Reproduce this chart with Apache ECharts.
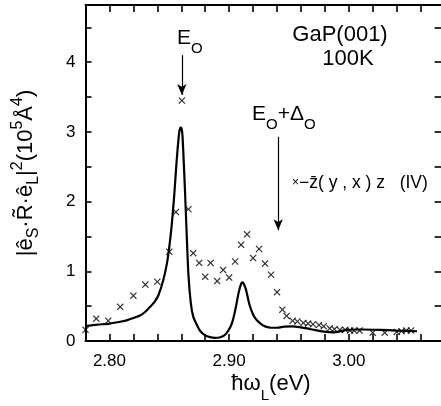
<!DOCTYPE html>
<html>
<head>
<meta charset="utf-8">
<script src="https://cdn.jsdelivr.net/npm/echarts@6/dist/echarts.min.js"></script>
<style>html,body{margin:0;padding:0;background:#fff;}#c{width:441px;height:406px;}</style>
</head>
<body>
<div id="c"></div>
<script>
// measured points (crosses): -z(y,x)z (IV)
const crossX = [2.780, 2.789, 2.799, 2.809, 2.820, 2.830, 2.840, 2.850, 2.8555, 2.8605, 2.866, 2.870, 2.875, 2.880, 2.8845, 2.890, 2.895, 2.900, 2.905, 2.910, 2.915, 2.920, 2.925, 2.930, 2.935, 2.940, 2.9445, 2.948, 2.953, 2.957, 2.962, 2.966, 2.970, 2.975, 2.979, 2.984, 2.988, 2.9925, 2.997, 3.001, 3.0045, 3.009, 3.020, 3.030, 3.040, 3.044, 3.048, 3.052];
const crossY = [0.16, 0.32, 0.29, 0.49, 0.65, 0.81, 0.85, 1.28, 1.85, 3.45, 1.89, 1.26, 1.12, 0.92, 1.12, 0.86, 1.02, 0.91, 1.14, 1.38, 1.53, 1.19, 1.32, 1.11, 0.95, 0.70, 0.45, 0.36, 0.29, 0.28, 0.26, 0.25, 0.24, 0.23, 0.21, 0.18, 0.17, 0.16, 0.16, 0.15, 0.15, 0.15, 0.12, 0.12, 0.13, 0.14, 0.15, 0.15];
// calculated curve (solid line)
const curveX = [2.78, 2.79, 2.80, 2.81, 2.815, 2.82, 2.826, 2.83, 2.834, 2.838, 2.841, 2.845, 2.848, 2.850, 2.852, 2.854, 2.856, 2.858, 2.859, 2.860, 2.861, 2.863, 2.8645, 2.866, 2.868, 2.870, 2.8725, 2.876, 2.880, 2.884, 2.888, 2.892, 2.896, 2.899, 2.902, 2.904, 2.906, 2.908, 2.910, 2.911, 2.912, 2.914, 2.917, 2.920, 2.923, 2.927, 2.930, 2.935, 2.940, 2.946, 2.953, 2.960, 2.965, 2.972, 2.979, 2.987, 2.993, 2.998, 3.010, 3.026, 3.040, 3.057];
const curveY = [0.215, 0.235, 0.25, 0.28, 0.30, 0.33, 0.37, 0.42, 0.49, 0.57, 0.66, 0.875, 1.11, 1.35, 1.66, 2.06, 2.55, 2.95, 3.05, 3.06, 2.95, 2.2, 1.55, 0.95, 0.54, 0.35, 0.25, 0.14, 0.08, 0.055, 0.045, 0.05, 0.08, 0.14, 0.24, 0.36, 0.52, 0.70, 0.82, 0.84, 0.83, 0.74, 0.52, 0.38, 0.30, 0.24, 0.21, 0.19, 0.19, 0.205, 0.21, 0.195, 0.18, 0.155, 0.135, 0.125, 0.14, 0.16, 0.165, 0.16, 0.15, 0.14];
// x tick labels and y tick labels
const xTickLabels = ['2.80', '2.90', '3.00'];
const yTickLabels = ['0', '1', '2', '3', '4'];
// arrows (E0 and E0+Δ0)
const arrowE0 = [[2.8605, 4.10], [2.8605, 3.53]];
const arrowE0D0 = [[2.941, 2.93], [2.941, 1.59]];

const FONT = 'Liberation Sans';
const chart = echarts.init(document.getElementById('c'), null, {renderer: 'canvas'});

const crossPath = 'path://M0,1.2L1.2,0L5,3.8L8.8,0L10,1.2L6.2,5L10,8.8L8.8,10L5,6.2L1.2,10L0,8.8L3.8,5Z';

const xLabelFmt = v => {
  const s = v.toFixed(2);
  return xTickLabels.indexOf(s) >= 0 ? s : '';
};
const yLabelFmt = v => {
  const s = String(v);
  return yTickLabels.indexOf(s) >= 0 ? s : '';
};

const axisCommon = {
  axisLine: {show: true, onZero: false, lineStyle: {color: '#000', width: 2}},
  axisTick: {show: true, inside: true, length: 7, lineStyle: {color: '#000', width: 1.6}},
  splitLine: {show: false}
};

chart.setOption({
  backgroundColor: '#fff',
  animation: false,
  grid: {left: 85.5, top: 5, right: -3.6, bottom: 65, outerBoundsMode: 'none', containLabel: false},
  xAxis: [
    Object.assign({}, axisCommon, {
      type: 'value', min: 2.78, max: 3.08, interval: 0.02, position: 'bottom',
      axisLabel: {formatter: xLabelFmt, fontFamily: FONT, fontSize: 17, color: '#000', margin: 12, showMinLabel: true, showMaxLabel: true}
    }),
    Object.assign({}, axisCommon, {
      type: 'value', min: 2.78, max: 3.08, interval: 0.02, position: 'top',
      axisLabel: {show: false}
    })
  ],
  yAxis: [
    Object.assign({}, axisCommon, {
      type: 'value', min: 0, max: 4.82, interval: 0.5, position: 'left',
      axisTick: {show: true, inside: true, length: 6, lineStyle: {color: '#000', width: 1.6}},
      axisLabel: {formatter: yLabelFmt, fontFamily: FONT, fontSize: 17, color: '#000', margin: 10},
      name: '{a||ê}{sub|S}{a|·R̃·ê}{sub|L}{a||}{sup|2}{a|(10}{sup|5}{a|Å}{sup|4}{a|)}',
      nameLocation: 'middle', nameRotate: 90, nameGap: 44,
      nameTextStyle: {
        rich: {
          a: {fontFamily: FONT, fontSize: 22, color: '#000', lineHeight: 32},
          sub: {fontFamily: FONT, fontSize: 16, color: '#000', lineHeight: 16, verticalAlign: 'bottom'},
          sup: {fontFamily: FONT, fontSize: 16, color: '#000', lineHeight: 16, verticalAlign: 'top'}
        }
      }
    }),
    Object.assign({}, axisCommon, {
      type: 'value', min: 0, max: 4.82, interval: 0.5, position: 'right',
      axisTick: {show: true, inside: true, length: 10, lineStyle: {color: '#000', width: 1.6}},
      axisLabel: {show: false}
    })
  ],
  series: [
    {
      type: 'line', name: 'calc', xAxisIndex: 0, yAxisIndex: 0,
      data: curveX.map((x, i) => [x, curveY[i]]),
      showSymbol: false, symbol: 'none', smooth: 0.25,
      lineStyle: {color: '#000', width: 2.2},
      markLine: {
        silent: true, symbol: ['none', 'arrow'], symbolSize: [7, 11],
        label: {show: false},
        lineStyle: {color: '#000', width: 1.2, type: 'solid'},
        data: [
          [{coord: arrowE0[0]}, {coord: arrowE0[1]}],
          [{coord: arrowE0D0[0]}, {coord: arrowE0D0[1]}]
        ]
      }
    },
    {
      type: 'scatter', name: 'exp', xAxisIndex: 0, yAxisIndex: 0,
      data: crossX.map((x, i) => [x, crossY[i]]),
      symbol: crossPath, symbolSize: 7,
      itemStyle: {color: '#000'}
    }
  ],
  graphic: [
    {type: 'text', left: 177, top: 28, style: {
      text: '{e|E}{s|O}', rich: {
        e: {fontFamily: FONT, fontSize: 21, fill: '#000', lineHeight: 28, verticalAlign: 'top'},
        s: {fontFamily: FONT, fontSize: 15, fill: '#000', lineHeight: 16, verticalAlign: 'bottom'}
      }}},
    {type: 'text', left: 252, top: 104, style: {
      text: '{e|E}{s|O}{e|+}{e|Δ}{s|O}', rich: {
        e: {fontFamily: FONT, fontSize: 21, fill: '#000', lineHeight: 28, verticalAlign: 'top'},
        s: {fontFamily: FONT, fontSize: 15, fill: '#000', lineHeight: 16, verticalAlign: 'bottom'}
      }}},
    {type: 'text', x: 340, y: 35, style: {text: 'GaP(001)', fontFamily: FONT, fontSize: 22, fill: '#000', align: 'center', verticalAlign: 'middle'}},
    {type: 'text', x: 348, y: 59, style: {text: '100K', fontFamily: FONT, fontSize: 22, fill: '#000', align: 'center', verticalAlign: 'middle'}},
    {type: 'text', x: 292, y: 183, style: {
      text: '{x|×}{t|−z̄( y , x ) z   (IV)}', verticalAlign: 'middle', rich: {
        x: {fontFamily: FONT, fontSize: 12, fill: '#000'},
        t: {fontFamily: FONT, fontSize: 17.5, fill: '#000'}
      }}},
    {type: 'text', x: 271, y: 388, style: {
      text: '{a|ħω}{s|L}{a|(eV)}', align: 'center', verticalAlign: 'middle', rich: {
        a: {fontFamily: FONT, fontSize: 22, fill: '#000', lineHeight: 30, verticalAlign: 'top'},
        s: {fontFamily: FONT, fontSize: 15, fill: '#000', lineHeight: 16, verticalAlign: 'bottom'}
      }}}
  ]
});
</script>
</body>
</html>
